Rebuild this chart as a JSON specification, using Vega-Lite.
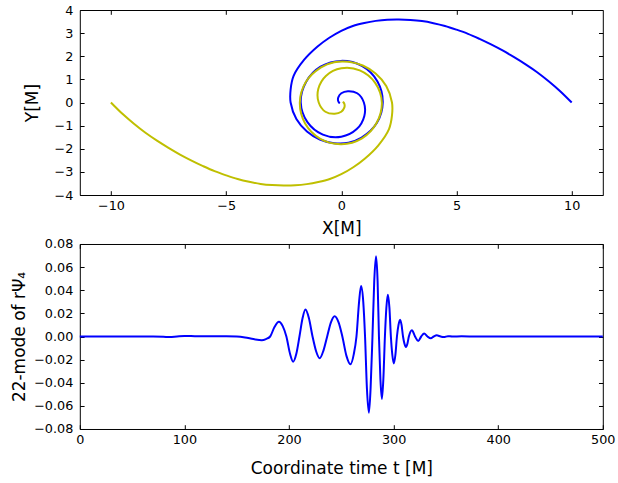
{
  "$schema": "https://vega.github.io/schema/vega-lite/v6.json",
  "padding": {"left": 9.8, "top": 3, "right": 2, "bottom": 0},
  "spacing": 0,
  "datasets": {
    "orbit": [
      {"body": "BH1", "i": 0, "x": 10.0, "y": 0.0},
      {"body": "BH1", "i": 1, "x": 9.5, "y": 0.49},
      {"body": "BH1", "i": 2, "x": 9.0, "y": 0.92},
      {"body": "BH1", "i": 3, "x": 8.5, "y": 1.31},
      {"body": "BH1", "i": 4, "x": 8.0, "y": 1.65},
      {"body": "BH1", "i": 5, "x": 7.5, "y": 1.96},
      {"body": "BH1", "i": 6, "x": 7.0, "y": 2.25},
      {"body": "BH1", "i": 7, "x": 6.5, "y": 2.51},
      {"body": "BH1", "i": 8, "x": 6.0, "y": 2.75},
      {"body": "BH1", "i": 9, "x": 5.5, "y": 2.97},
      {"body": "BH1", "i": 10, "x": 5.0, "y": 3.15},
      {"body": "BH1", "i": 11, "x": 4.5, "y": 3.31},
      {"body": "BH1", "i": 12, "x": 4.0, "y": 3.43},
      {"body": "BH1", "i": 13, "x": 3.5, "y": 3.52},
      {"body": "BH1", "i": 14, "x": 3.0, "y": 3.57},
      {"body": "BH1", "i": 15, "x": 2.5, "y": 3.59},
      {"body": "BH1", "i": 16, "x": 2.0, "y": 3.58},
      {"body": "BH1", "i": 17, "x": 1.5, "y": 3.53},
      {"body": "BH1", "i": 18, "x": 1.0, "y": 3.44},
      {"body": "BH1", "i": 19, "x": 0.5, "y": 3.31},
      {"body": "BH1", "i": 20, "x": 0.0, "y": 3.1},
      {"body": "BH1", "i": 21, "x": -0.52, "y": 2.8},
      {"body": "BH1", "i": 22, "x": -1.03, "y": 2.42},
      {"body": "BH1", "i": 23, "x": -1.61, "y": 1.85},
      {"body": "BH1", "i": 24, "x": -2.07, "y": 1.15},
      {"body": "BH1", "i": 25, "x": -2.2, "y": 0.56},
      {"body": "BH1", "i": 26, "x": -2.2, "y": 0.0},
      {"body": "BH1", "i": 27, "x": -1.95, "y": -0.71},
      {"body": "BH1", "i": 28, "x": -1.49, "y": -1.25},
      {"body": "BH1", "i": 29, "x": -0.93, "y": -1.6},
      {"body": "BH1", "i": 30, "x": -0.31, "y": -1.76},
      {"body": "BH1", "i": 31, "x": 0.31, "y": -1.74},
      {"body": "BH1", "i": 32, "x": 0.88, "y": -1.52},
      {"body": "BH1", "i": 33, "x": 1.54, "y": -0.89},
      {"body": "BH1", "i": 34, "x": 1.8, "y": 0.0},
      {"body": "BH1", "i": 35, "x": 1.57, "y": 0.91},
      {"body": "BH1", "i": 36, "x": 0.91, "y": 1.57},
      {"body": "BH1", "i": 37, "x": 0.0, "y": 1.8},
      {"body": "BH1", "i": 38, "x": -0.9, "y": 1.55},
      {"body": "BH1", "i": 39, "x": -1.53, "y": 0.89},
      {"body": "BH1", "i": 40, "x": -1.76, "y": 0.0},
      {"body": "BH1", "i": 41, "x": -1.47, "y": -0.85},
      {"body": "BH1", "i": 42, "x": -0.8, "y": -1.39},
      {"body": "BH1", "i": 43, "x": 0.0, "y": -1.48},
      {"body": "BH1", "i": 44, "x": 0.67, "y": -1.15},
      {"body": "BH1", "i": 45, "x": 1.0, "y": -0.58},
      {"body": "BH1", "i": 46, "x": 0.98, "y": 0.0},
      {"body": "BH1", "i": 47, "x": 0.69, "y": 0.4},
      {"body": "BH1", "i": 48, "x": 0.285, "y": 0.49},
      {"body": "BH1", "i": 49, "x": 0.0, "y": 0.4},
      {"body": "BH1", "i": 50, "x": -0.13, "y": 0.225},
      {"body": "BH1", "i": 51, "x": -0.14, "y": 0.08},
      {"body": "BH1", "i": 52, "x": -0.1, "y": 0.0},
      {"body": "BH1", "i": 53, "x": -0.06, "y": -0.03},
      {"body": "BH2", "i": 0, "x": -10.0, "y": 0.0},
      {"body": "BH2", "i": 1, "x": -9.5, "y": -0.49},
      {"body": "BH2", "i": 2, "x": -9.0, "y": -0.92},
      {"body": "BH2", "i": 3, "x": -8.5, "y": -1.31},
      {"body": "BH2", "i": 4, "x": -8.0, "y": -1.65},
      {"body": "BH2", "i": 5, "x": -7.5, "y": -1.96},
      {"body": "BH2", "i": 6, "x": -7.0, "y": -2.25},
      {"body": "BH2", "i": 7, "x": -6.5, "y": -2.51},
      {"body": "BH2", "i": 8, "x": -6.0, "y": -2.75},
      {"body": "BH2", "i": 9, "x": -5.5, "y": -2.97},
      {"body": "BH2", "i": 10, "x": -5.0, "y": -3.15},
      {"body": "BH2", "i": 11, "x": -4.5, "y": -3.31},
      {"body": "BH2", "i": 12, "x": -4.0, "y": -3.43},
      {"body": "BH2", "i": 13, "x": -3.5, "y": -3.52},
      {"body": "BH2", "i": 14, "x": -3.0, "y": -3.57},
      {"body": "BH2", "i": 15, "x": -2.5, "y": -3.59},
      {"body": "BH2", "i": 16, "x": -2.0, "y": -3.58},
      {"body": "BH2", "i": 17, "x": -1.5, "y": -3.53},
      {"body": "BH2", "i": 18, "x": -1.0, "y": -3.44},
      {"body": "BH2", "i": 19, "x": -0.5, "y": -3.31},
      {"body": "BH2", "i": 20, "x": 0.0, "y": -3.1},
      {"body": "BH2", "i": 21, "x": 0.52, "y": -2.8},
      {"body": "BH2", "i": 22, "x": 1.03, "y": -2.42},
      {"body": "BH2", "i": 23, "x": 1.61, "y": -1.85},
      {"body": "BH2", "i": 24, "x": 2.07, "y": -1.15},
      {"body": "BH2", "i": 25, "x": 2.2, "y": -0.56},
      {"body": "BH2", "i": 26, "x": 2.2, "y": 0.0},
      {"body": "BH2", "i": 27, "x": 1.95, "y": 0.71},
      {"body": "BH2", "i": 28, "x": 1.49, "y": 1.25},
      {"body": "BH2", "i": 29, "x": 0.93, "y": 1.6},
      {"body": "BH2", "i": 30, "x": 0.31, "y": 1.76},
      {"body": "BH2", "i": 31, "x": -0.31, "y": 1.74},
      {"body": "BH2", "i": 32, "x": -0.88, "y": 1.52},
      {"body": "BH2", "i": 33, "x": -1.54, "y": 0.89},
      {"body": "BH2", "i": 34, "x": -1.8, "y": 0.0},
      {"body": "BH2", "i": 35, "x": -1.57, "y": -0.91},
      {"body": "BH2", "i": 36, "x": -0.91, "y": -1.57},
      {"body": "BH2", "i": 37, "x": 0.0, "y": -1.8},
      {"body": "BH2", "i": 38, "x": 0.9, "y": -1.55},
      {"body": "BH2", "i": 39, "x": 1.53, "y": -0.89},
      {"body": "BH2", "i": 40, "x": 1.76, "y": 0.0},
      {"body": "BH2", "i": 41, "x": 1.47, "y": 0.85},
      {"body": "BH2", "i": 42, "x": 0.8, "y": 1.39},
      {"body": "BH2", "i": 43, "x": 0.0, "y": 1.48},
      {"body": "BH2", "i": 44, "x": -0.67, "y": 1.15},
      {"body": "BH2", "i": 45, "x": -1.0, "y": 0.58},
      {"body": "BH2", "i": 46, "x": -0.98, "y": 0.0},
      {"body": "BH2", "i": 47, "x": -0.69, "y": -0.4},
      {"body": "BH2", "i": 48, "x": -0.285, "y": -0.49},
      {"body": "BH2", "i": 49, "x": 0.0, "y": -0.4},
      {"body": "BH2", "i": 50, "x": 0.13, "y": -0.225},
      {"body": "BH2", "i": 51, "x": 0.14, "y": -0.08},
      {"body": "BH2", "i": 52, "x": 0.1, "y": 0.0},
      {"body": "BH2", "i": 53, "x": 0.06, "y": 0.03}
    ],
    "wave": [
      {"t": 0, "psi": 0}, {"t": 40, "psi": 0}, {"t": 70, "psi": 0}, {"t": 80, "psi": -0.0002},
      {"t": 86, "psi": -0.0005}, {"t": 93, "psi": 0}, {"t": 100, "psi": 0.0004}, {"t": 110, "psi": 0.0003},
      {"t": 125, "psi": 0.0002}, {"t": 140, "psi": 0.0002}, {"t": 150, "psi": 0}, {"t": 158, "psi": -0.0008},
      {"t": 166, "psi": -0.0022}, {"t": 174, "psi": -0.0032}, {"t": 178, "psi": -0.0022}, {"t": 182, "psi": 0},
      {"t": 186, "psi": 0.008}, {"t": 190.4, "psi": 0.0128}, {"t": 194, "psi": 0.009}, {"t": 197.5, "psi": 0},
      {"t": 201, "psi": -0.015}, {"t": 204, "psi": -0.0218}, {"t": 207, "psi": -0.015}, {"t": 210, "psi": 0},
      {"t": 213, "psi": 0.016}, {"t": 215.7, "psi": 0.0233}, {"t": 219, "psi": 0.016}, {"t": 222.5, "psi": 0},
      {"t": 226, "psi": -0.013}, {"t": 229.3, "psi": -0.0189}, {"t": 233, "psi": -0.012}, {"t": 236.5, "psi": 0},
      {"t": 240, "psi": 0.012}, {"t": 243.6, "psi": 0.0175}, {"t": 247.5, "psi": 0.012}, {"t": 251, "psi": 0},
      {"t": 255, "psi": -0.017}, {"t": 258.7, "psi": -0.0241}, {"t": 262, "psi": -0.015}, {"t": 264.5, "psi": 0},
      {"t": 267, "psi": 0.03}, {"t": 268.9, "psi": 0.0436}, {"t": 271, "psi": 0.03}, {"t": 272.7, "psi": 0},
      {"t": 274.5, "psi": -0.045}, {"t": 276.4, "psi": -0.066}, {"t": 278, "psi": -0.045}, {"t": 279.8, "psi": 0},
      {"t": 281.5, "psi": 0.048}, {"t": 283.2, "psi": 0.0695}, {"t": 284.7, "psi": 0.048}, {"t": 286, "psi": 0},
      {"t": 287.4, "psi": -0.037}, {"t": 288.8, "psi": -0.054}, {"t": 290.2, "psi": -0.037}, {"t": 291.7, "psi": 0},
      {"t": 293.1, "psi": 0.025}, {"t": 294.5, "psi": 0.036}, {"t": 296, "psi": 0.025}, {"t": 297.4, "psi": 0},
      {"t": 298.8, "psi": -0.016}, {"t": 300.2, "psi": -0.0233}, {"t": 301.7, "psi": -0.016}, {"t": 303.2, "psi": 0},
      {"t": 304.7, "psi": 0.01}, {"t": 306.2, "psi": 0.0145}, {"t": 307.6, "psi": 0.01}, {"t": 309, "psi": 0},
      {"t": 310.4, "psi": -0.0062}, {"t": 311.8, "psi": -0.009}, {"t": 313.2, "psi": -0.0062}, {"t": 314.6, "psi": 0},
      {"t": 317.5, "psi": 0.0055}, {"t": 320.5, "psi": 0}, {"t": 323.5, "psi": -0.0038}, {"t": 326.4, "psi": 0},
      {"t": 329.2, "psi": 0.0026}, {"t": 332.4, "psi": 0}, {"t": 335.6, "psi": -0.0015}, {"t": 338.4, "psi": 0},
      {"t": 341.2, "psi": 0.001}, {"t": 345, "psi": 0}, {"t": 348, "psi": -0.0005}, {"t": 352, "psi": 0.0003},
      {"t": 356, "psi": 0}, {"t": 365, "psi": 0.0002}, {"t": 380, "psi": 0}, {"t": 500, "psi": 0}
    ]
  },
  "vconcat": [
    {
      "width": 523,
      "height": 185,
      "data": {"name": "orbit"},
      "layer": [
        {
          "transform": [{"filter": "datum.body == 'BH1'"}],
          "mark": {"type": "line", "color": "#0000ff", "strokeWidth": 2, "interpolate": "catmull-rom"},
          "encoding": {
            "x": {"field": "x", "type": "quantitative",
                  "scale": {"domain": [-11.35, 11.35], "nice": false, "zero": false},
                  "axis": {"orient": "bottom", "values": [-10, -5, 0, 5, 10], "format": "d", "title": "X[M]", "titlePadding": 8}},
            "y": {"field": "y", "type": "quantitative",
                  "scale": {"domain": [-4, 4], "nice": false, "zero": false},
                  "axis": {"orient": "left", "values": [-4, -3, -2, -1, 0, 1, 2, 3, 4], "format": "d", "title": "Y[M]", "titlePadding": 12.4}},
            "order": {"field": "i", "type": "quantitative"}
          }
        },
        {
          "transform": [{"filter": "datum.body == 'BH2'"}],
          "mark": {"type": "line", "color": "#bfbf00", "strokeWidth": 2, "interpolate": "catmull-rom"},
          "encoding": {
            "x": {"field": "x", "type": "quantitative",
                  "axis": {"orient": "top", "values": [-10, -5, 0, 5, 10], "labels": false, "title": null}},
            "y": {"field": "y", "type": "quantitative",
                  "axis": {"orient": "right", "values": [-4, -3, -2, -1, 0, 1, 2, 3, 4], "labels": false, "title": null}},
            "order": {"field": "i", "type": "quantitative"}
          }
        }
      ],
      "resolve": {"axis": {"x": "independent", "y": "independent"}}
    },
    {
      "width": 523,
      "height": 185,
      "data": {"name": "wave"},
      "layer": [
        {
          "mark": {"type": "line", "color": "#0000ff", "strokeWidth": 2, "interpolate": "monotone"},
          "encoding": {
            "x": {"field": "t", "type": "quantitative",
                  "scale": {"domain": [0, 500], "nice": false},
                  "axis": {"orient": "bottom", "values": [0, 100, 200, 300, 400, 500], "format": "d", "title": "Coordinate time t [M]", "titlePadding": 14}},
            "y": {"field": "psi", "type": "quantitative",
                  "scale": {"domain": [-0.08, 0.08], "nice": false},
                  "axis": {"orient": "left", "values": [-0.08, -0.06, -0.04, -0.02, 0, 0.02, 0.04, 0.06, 0.08], "format": ".2f", "title": "22-mode of rΨ₄", "titlePadding": 4.7}}
          }
        },
        {
          "mark": {"type": "line", "opacity": 0, "interpolate": "monotone"},
          "encoding": {
            "x": {"field": "t", "type": "quantitative",
                  "axis": {"orient": "top", "values": [0, 100, 200, 300, 400, 500], "labels": false, "title": null}},
            "y": {"field": "psi", "type": "quantitative",
                  "axis": {"orient": "right", "values": [-0.08, -0.06, -0.04, -0.02, 0, 0.02, 0.04, 0.06, 0.08], "labels": false, "title": null}}
          }
        }
      ],
      "resolve": {"axis": {"x": "independent", "y": "independent"}}
    }
  ],
  "config": {
    "font": "DejaVu Sans",
    "view": {"stroke": "black", "strokeWidth": 1},
    "axis": {
      "domain": false, "grid": false, "ticks": true, "tickSize": -4.3, "tickColor": "black", "tickWidth": 1,
      "labelColor": "black", "labelFontSize": 12.8, "labelFont": "DejaVu Sans", "labelFlush": false, "labelOverlap": false,
      "titleColor": "black", "titleFontSize": 17, "titleFont": "DejaVu Sans", "titleFontWeight": "normal"
    },
    "axisX": {"labelPadding": 9},
    "axisY": {"labelPadding": 11.3}
  }
}
